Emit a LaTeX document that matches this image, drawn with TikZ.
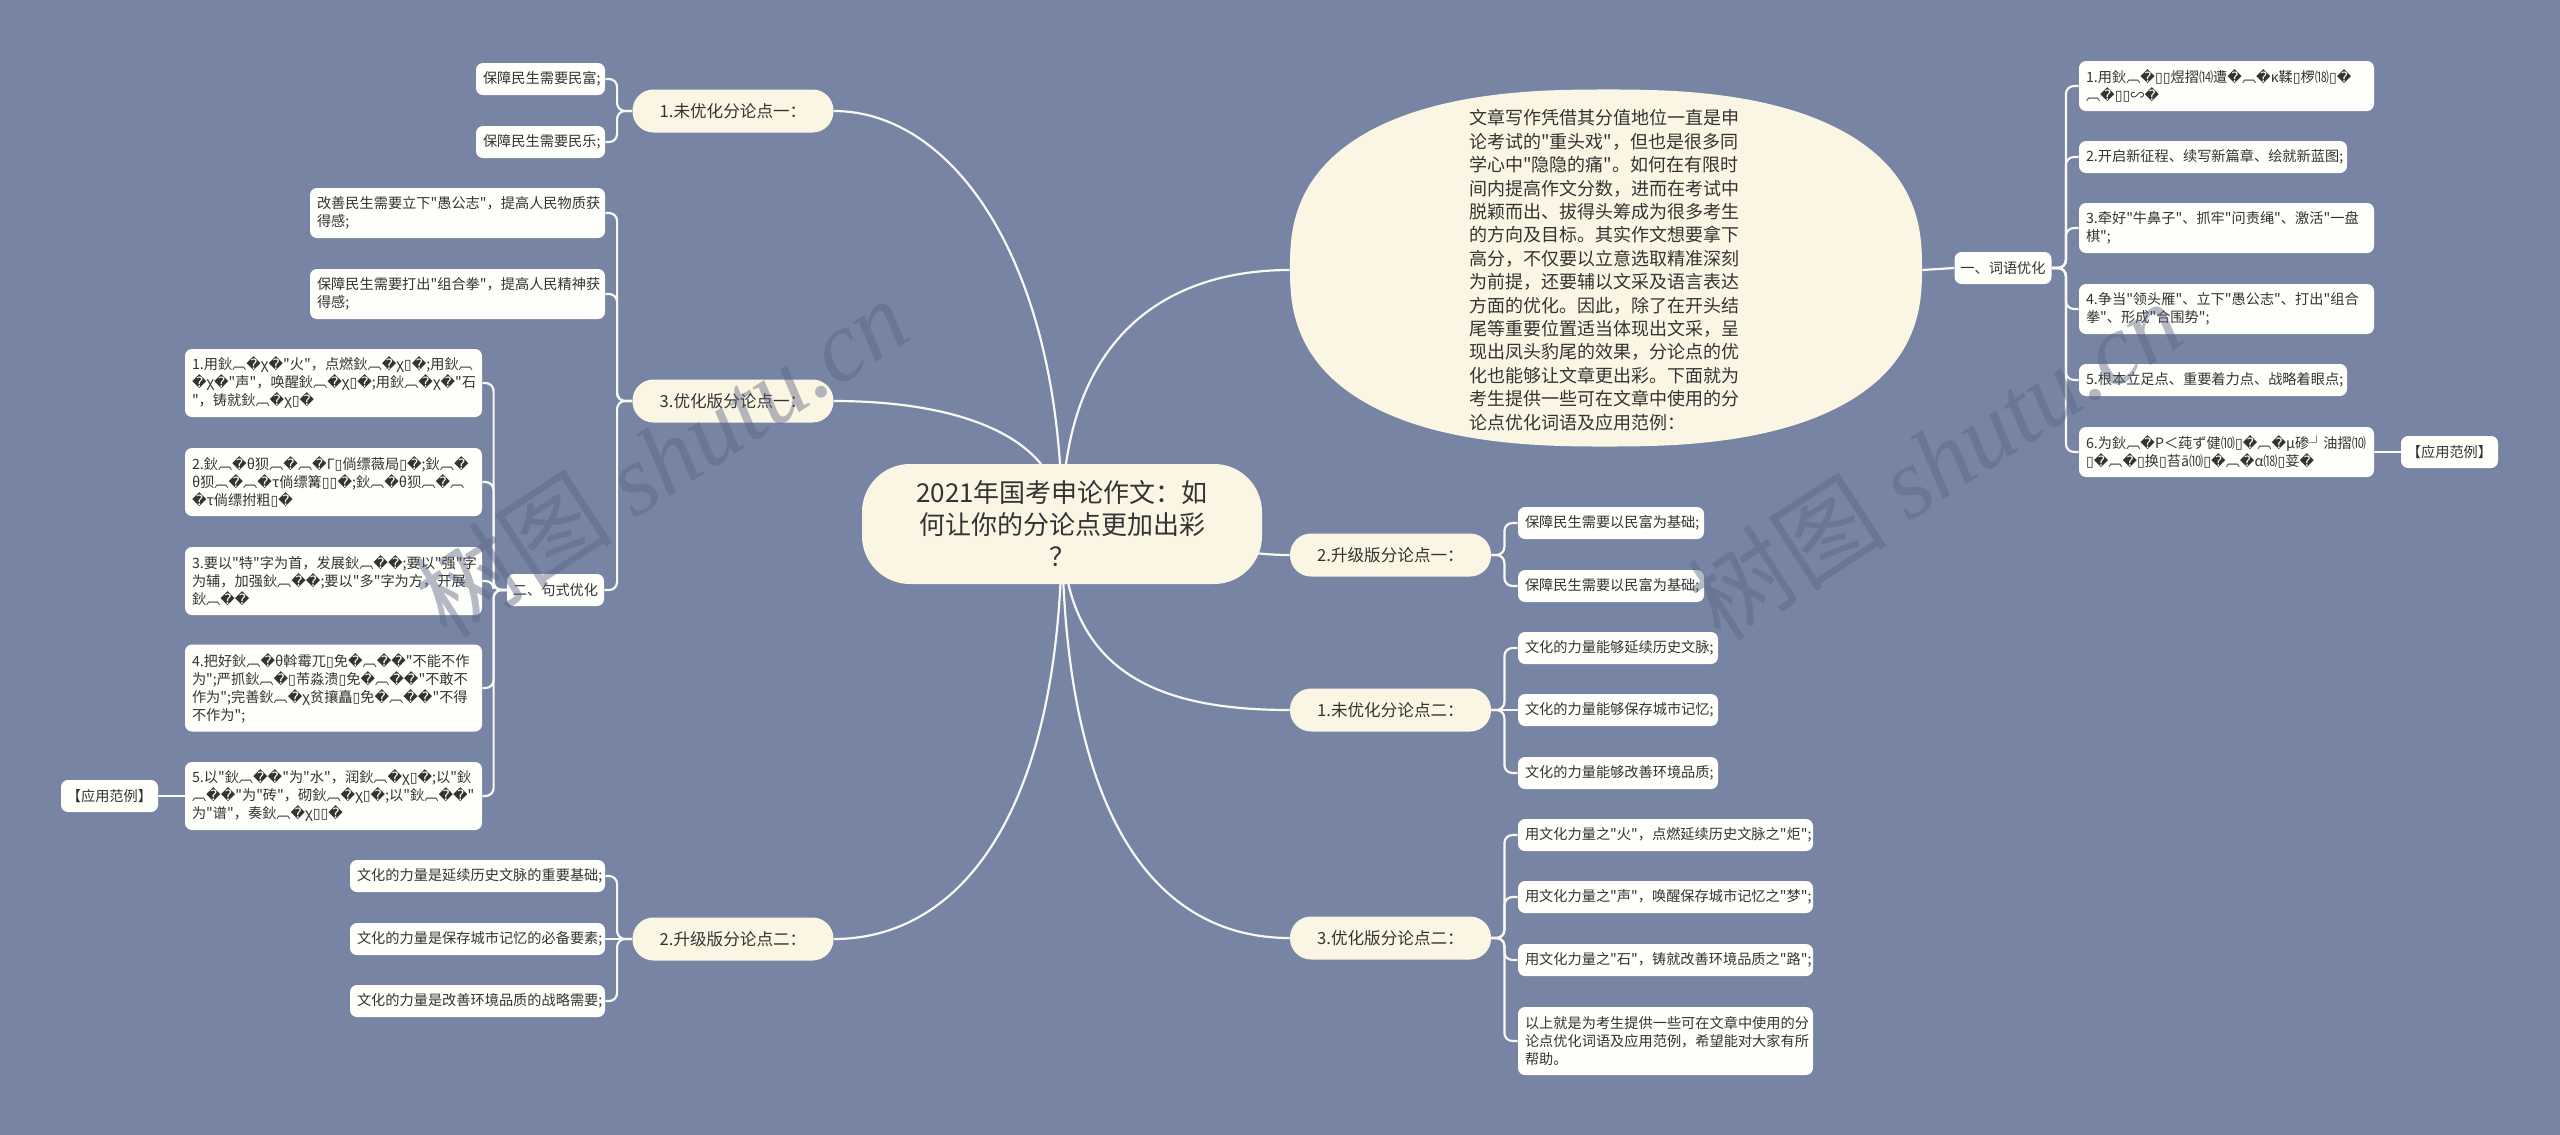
\documentclass[tikz,border=0pt]{standalone}
\usepackage{fontspec}
\setmainfont{Noto Sans CJK SC}[Ligatures=TeXOff]
\newfontfamily\symfont{DejaVu Sans}
\newfontfamily\wmfont{Liberation Serif}
\usetikzlibrary{backgrounds}
\definecolor{bgblue}{HTML}{7784A4}
\definecolor{pillbg}{HTML}{FBF6E3}
\definecolor{leafbg}{HTML}{FEFEFA}
\definecolor{inkcol}{HTML}{333333}
\definecolor{linecol}{HTML}{F8F8F5}
\definecolor{wmcol}{HTML}{5C6684}
\catcode`\^^^^fffd=\active
\def^^^^fffd{{\symfont\symbol{"FFFD}}}
\catcode`\^^^^25af=\active
\def^^^^25af{{\symfont\symbol{"25AF}}}
\tikzset{
  rootnode/.style={fill=pillbg, text=inkcol, rounded corners=24pt, align=center,
    font=\fontsize{13pt}{16pt}\selectfont, minimum width=200pt, minimum height=60pt, inner sep=0pt},
  topic/.style={fill=pillbg, text=inkcol, rounded corners=10.5pt,
    font=\fontsize{8.3pt}{10pt}\selectfont, minimum width=100.5pt, minimum height=21.5pt, inner sep=0pt},
  leaf/.style={fill=leafbg, text=inkcol, rounded corners=3.5pt, align=left,
    font=\fontsize{7.1pt}{9pt}\selectfont, inner xsep=3.5pt, inner ysep=0pt, minimum height=16pt},
  tagbox/.style={fill=leafbg, text=inkcol, rounded corners=3.5pt, align=center,
    font=\fontsize{7.1pt}{9pt}\selectfont, inner sep=0pt, minimum width=48.5pt, minimum height=16pt},
  introtext/.style={text=inkcol, align=left, font=\fontsize{9pt}{11.7pt}\selectfont,
    text width=137pt, minimum width=316pt, minimum height=178.5pt, inner sep=0pt},
  conn/.style={draw=linecol, line width=1.1pt},
  elbow/.style={conn, rounded corners=4pt},
  wmark/.style={text=wmcol, text opacity=0.45, rotate=33, font=\fontsize{50pt}{50pt}\selectfont},
}
\begin{document}
\begin{tikzpicture}[x=0.5pt, y=-0.5pt]
    \useasboundingbox (0,0) rectangle (2560,1135);
    % Root and intro
    \node[rootnode] (root) at (1062,524) {2021年国考申论作文：如\\何让你的分论点更加出彩\\？};
    \node[introtext] (intro) at (1606,270) {文章写作凭借其分值地位一直是申\\论考试的"重头戏"，但也是很多同\\学心中"隐隐的痛"。如何在有限时\\间内提高作文分数，进而在考试中\\脱颖而出、拔得头筹成为很多考生\\的方向及目标。其实作文想要拿下\\高分，不仅要以立意选取精准深刻\\为前提，还要辅以文采及语言表达\\方面的优化。因此，除了在开头结\\尾等重要位置适当体现出文采，呈\\现出凤头豹尾的效果，分论点的优\\化也能够让文章更出彩。下面就为\\考生提供一些可在文章中使用的分\\论点优化词语及应用范例：};
    % Left: 1.未优化分论点一
    \node[topic] (t1) at (733,111) {1.未优化分论点一：};
    \node[leaf, text width=57.5pt] (t1a) at (540.5,79) {保障民生需要民富;};
    \node[leaf, text width=57.5pt] (t1b) at (540.5,142) {保障民生需要民乐;};
    % Left: 3.优化版分论点一
    \node[topic] (t3) at (733,401) {3.优化版分论点一：};
    \node[leaf, text width=140.5pt, minimum height=25pt] (t3a) at (457.5,213) {改善民生需要立下"愚公志"，提高人民物质获\\得感;};
    \node[leaf, text width=140.5pt, minimum height=25pt] (t3b) at (457.5,294) {保障民生需要打出"组合拳"，提高人民精神获\\得感;};
    \node[tagbox] (s2) at (555.5,590) {二、句式优化};
    \node[leaf, text width=141.5pt, minimum height=34pt] (s2a) at (333.5,383) {1.用鈥︹�χ�"火"，点燃鈥︹�χ▯�;用鈥︹\\�χ�"声"，唤醒鈥︹�χ▯�;用鈥︹�χ�"石\\"，铸就鈥︹�χ▯�};
    \node[leaf, text width=141.5pt, minimum height=34pt] (s2b) at (333.5,482) {2.鈥︹�θ狈︹�︹�Γ▯倘缥薇局▯�;鈥︹�\\θ狈︹�︹�τ倘缥篝▯▯�;鈥︹�θ狈︹�︹\\�τ倘缥拊粗▯�};
    \node[leaf, text width=141.5pt, minimum height=34pt] (s2c) at (333.5,581) {3.要以"特"字为首，发展鈥︹��;要以"强"字\\为辅，加强鈥︹��;要以"多"字为方，开展\\鈥︹��};
    \node[leaf, text width=141.5pt, minimum height=43.5pt] (s2d) at (333.5,688) {4.把好鈥︹�θ斡霉兀▯免�︹��"不能不作\\为";严抓鈥︹�▯芾淼溃▯免�︹��"不敢不\\作为";完善鈥︹�χ贫攘矗▯免�︹��"不得\\不作为";};
    \node[leaf, text width=141.5pt, minimum height=34pt] (s2e) at (333.5,796) {5.以"鈥︹��"为"水"，润鈥︹�χ▯�;以"鈥\\︹��"为"砖"，砌鈥︹�χ▯�;以"鈥︹��"\\为"谱"，奏鈥︹�χ▯▯�};
    \node[tagbox] (ex1) at (109.5,796) {【应用范例】};
    % Left: 2.升级版分论点二
    \node[topic] (t2) at (733,939) {2.升级版分论点二：};
    \node[leaf, text width=120.5pt] (t2a) at (477.5,876) {文化的力量是延续历史文脉的重要基础;};
    \node[leaf, text width=120.5pt] (t2b) at (477.5,939) {文化的力量是保存城市记忆的必备要素;};
    \node[leaf, text width=120.5pt] (t2c) at (477.5,1001) {文化的力量是改善环境品质的战略需要;};
    % Right: 一、词语优化
    \node[tagbox] (w1) at (2003,268) {一、词语优化};
    \node[leaf, text width=140.5pt, minimum height=25pt] (w1a) at (2226.5,86) {1.用鈥︹�▯▯煜摺⒁遭�︹�κ鞣▯椤⒅▯�\\︹�▯▯∽�};
    \node[leaf, text width=127pt] (w1b) at (2213,157) {2.开启新征程、续写新篇章、绘就新蓝图;};
    \node[leaf, text width=140.5pt, minimum height=25pt] (w1c) at (2226.5,228) {3.牵好"牛鼻子"、抓牢"问责绳"、激活"一盘\\棋";};
    \node[leaf, text width=140.5pt, minimum height=25pt] (w1d) at (2226.5,309) {4.争当"领头雁"、立下"愚公志"、打出"组合\\拳"、形成"合围势";};
    \node[leaf, text width=127pt] (w1e) at (2213,380) {5.根本立足点、重要着力点、战略着眼点;};
    \node[leaf, text width=140.5pt, minimum height=25pt] (w1f) at (2226.5,452) {6.为鈥︹�P＜莼ず健⑽▯�︹�μ碜┘油摺⑽\\▯�︹�▯换▯苔ā⑽▯�︹�α⒅▯荽�};
    \node[tagbox] (ex2) at (2449.5,452) {【应用范例】};
    % Right: 2.升级版分论点一
    \node[topic] (p1) at (1390.5,555) {2.升级版分论点一：};
    \node[leaf, text width=86pt] (p1a) at (1611,523) {保障民生需要以民富为基础;};
    \node[leaf, text width=86pt] (p1b) at (1611,586) {保障民生需要以民富为基础;};
    % Right: 1.未优化分论点二
    \node[topic] (p2) at (1390.5,710) {1.未优化分论点二：};
    \node[leaf, text width=93pt] (p2a) at (1618,648) {文化的力量能够延续历史文脉;};
    \node[leaf, text width=93pt] (p2b) at (1618,710) {文化的力量能够保存城市记忆;};
    \node[leaf, text width=93pt] (p2c) at (1618,773) {文化的力量能够改善环境品质;};
    % Right: 3.优化版分论点二
    \node[topic] (p3) at (1390.5,938) {3.优化版分论点二：};
    \node[leaf, text width=140.5pt] (p3a) at (1665.5,835) {用文化力量之"火"，点燃延续历史文脉之"炬";};
    \node[leaf, text width=140.5pt] (p3b) at (1665.5,897) {用文化力量之"声"，唤醒保存城市记忆之"梦";};
    \node[leaf, text width=140.5pt] (p3c) at (1665.5,960) {用文化力量之"石"，铸就改善环境品质之"路";};
    \node[leaf, text width=140.5pt, minimum height=34pt] (p3d) at (1665.5,1041) {以上就是为考生提供一些可在文章中使用的分\\论点优化词语及应用范例，希望能对大家有所\\帮助。};
    \begin{scope}[on background layer]
      \fill[bgblue] (0,0) rectangle (2560,1135);
      % Curves from the root
      \draw[conn] (root.center) .. controls +(0,-260) and +(120,0) .. (t1.east);
      \draw[conn] (root.center) .. controls +(0,-90) and +(120,0) .. (t3.east);
      \draw[conn] (root.center) .. controls +(0,300) and +(120,0) .. (t2.east);
      \draw[conn] (root.center) .. controls +(0,-200) and +(-110,0) .. (intro.west);
      \draw[conn] (root.center) .. controls +(100,0) and +(-80,0) .. (p1.west);
      \draw[conn] (root.center) .. controls +(0,150) and +(-130,0) .. (p2.west);
      \draw[conn] (root.center) .. controls +(0,300) and +(-130,0) .. (p3.west);
      % Left brackets
      \draw[elbow] (t1.west) -- ++(-15,0) |- (t1a.east);
      \draw[elbow] (t1.west) -- ++(-15,0) |- (t1b.east);
      \draw[elbow] (t3.west) -- ++(-15,0) |- (t3a.east);
      \draw[elbow] (t3.west) -- ++(-15,0) |- (t3b.east);
      \draw[elbow] (t3.west) -- ++(-15,0) |- (s2.east);
      \foreach \n in {s2a,s2b,s2c,s2d,s2e}
        \draw[elbow] (s2.west) -- ++(-13,0) |- (\n.east);
      \draw[conn] (s2e.west) -- (ex1.east);
      \draw[elbow] (t2.west) -- ++(-15,0) |- (t2a.east);
      \draw[conn] (t2.west) -- (t2b.east);
      \draw[elbow] (t2.west) -- ++(-15,0) |- (t2c.east);
      % Right brackets
      \draw[conn] (intro.east) -- (w1.west);
      \foreach \n in {w1a,w1b,w1c,w1d,w1e,w1f}
        \draw[elbow] (w1.east) -- ++(14,0) |- (\n.west);
      \draw[conn] (w1f.east) -- (ex2.west);
      \draw[elbow] (p1.east) -- ++(13,0) |- (p1a.west);
      \draw[elbow] (p1.east) -- ++(13,0) |- (p1b.west);
      \draw[elbow] (p2.east) -- ++(13,0) |- (p2a.west);
      \draw[conn] (p2.east) -- (p2b.west);
      \draw[elbow] (p2.east) -- ++(13,0) |- (p2c.west);
      \foreach \n in {p3a,p3b,p3c,p3d}
        \draw[elbow] (p3.east) -- ++(13,0) |- (\n.west);
      % Intro oval
      \fill[pillbg] plot[smooth cycle, domain=1:358, samples=120]
        ({1606+316*sign(cos(\x))*pow(abs(cos(\x)),0.8)}, {268+178.5*sign(sin(\x))*pow(abs(sin(\x)),0.8)});
    \end{scope}
    % Watermark
    \node[wmark] (wmleft) at (661,457) {树图 {\wmfont\itshape shutu.cn}};
    \node[wmark] (wmright) at (1935,460) {树图 {\wmfont\itshape shutu.cn}};
\end{tikzpicture}
\end{document}
